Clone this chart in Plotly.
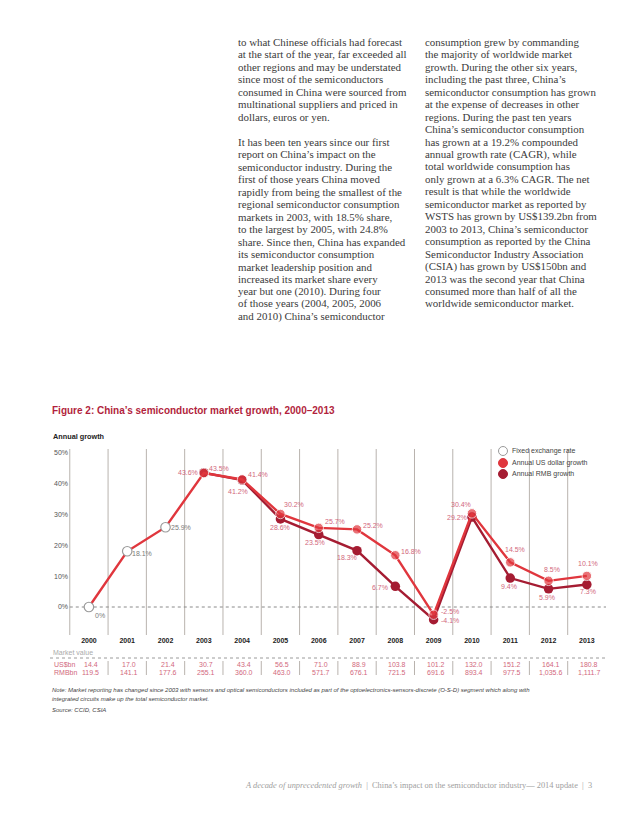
import plotly.graph_objects as go

# ---------------- data ----------------
years = list(range(2000, 2014))
fixed_years = [2000, 2001, 2002]
fixed_growth = [0.0, 18.1, 25.9]
usd_growth = [0.0, 18.1, 25.9, 43.5, 41.4, 30.2, 25.7, 25.2, 16.8, -2.5, 30.4, 14.5, 8.5, 10.1]
rmb_years = list(range(2003, 2014))
rmb_growth = [43.6, 41.2, 28.6, 23.5, 18.3, 6.7, -4.1, 29.2, 9.4, 5.9, 7.3]
usd_bn = [14.4, 17.0, 21.4, 30.7, 43.4, 56.5, 71.0, 88.9, 103.8, 101.2, 132.0, 151.2, 164.1, 180.8]
rmb_bn = [119.5, 141.1, 177.6, 255.1, 360.0, 463.0, 571.7, 676.1, 721.5, 691.6, 893.4, 977.5, 1035.6, 1111.7]
y_ticks = [0, 10, 20, 30, 40, 50]
y_tick_text = ["0%", "10%", "20%", "30%", "40%", "50%"]
series_names = ["Fixed exchange rate", "Annual US dollar growth", "Annual RMB growth"]

# ---------------- styling ----------------
OFF = 8                       # page body margin of the html page
W, H = 638 - OFF, 826 - OFF
L, R, T, B = 69 - OFF, 32, 449 - OFF, 191
PW, PH = W - L - R, H - T - B

def X(px):
    return (px - OFF - L) / PW

def Y(py):
    return (H - B - (py - OFF)) / PH

C_TITLE = "#b21f3d"
C_USD = "#e0363d"
C_RMB = "#a51c32"
C_LBL = "#d2687d"
C_FIX = "#9a9a9a"
C_GRID = "#b9b3ae"
SANS = "Liberation Sans, Arial, sans-serif"
SERIF = "Liberation Serif, Times New Roman, serif"

# label offsets (screen px: dx right, dy down)
fixed_off = [(11, 8), (15, 2), (15, 0)]
usd_off = [(15, -5), (16, -5), (14, -9), (16, -6), (16, -4), (16, -4), (16, -3),
           (-11, -9), (5, -13), (3, -11), (1, -12)]
rmb_off = [(-16, 0), (-4, 11), (0, 9), (-4, 8), (-10, 7), (-15, 1), (16, 1),
           (-15, 0), (-1, 8), (-2, 9), (1, 7)]

fig = go.Figure()

fig.add_trace(go.Scatter(
    x=rmb_years, y=rmb_growth, mode="lines+markers", name=series_names[2],
    line=dict(color=C_RMB, width=2.4),
    marker=dict(color=C_RMB, size=9.5), showlegend=False, hoverinfo="skip"))

fig.add_trace(go.Scatter(
    x=years, y=usd_growth, mode="lines+markers", name=series_names[1],
    line=dict(color=C_USD, width=2.4),
    marker=dict(color=C_USD, size=[0 if yr in fixed_years else 9.5 for yr in years]),
    showlegend=False, hoverinfo="skip"))

fig.add_trace(go.Scatter(
    x=fixed_years, y=fixed_growth, mode="markers", name=series_names[0],
    marker=dict(color="white", size=9.5, line=dict(color=C_FIX, width=1.2)),
    showlegend=False, hoverinfo="skip"))

ann = []
shapes = []

def fmt(v):
    return f"{v:g}%" if v == 0 else f"{v:.1f}%"

for (yr, v), (dx, dy) in zip(zip(fixed_years, fixed_growth), fixed_off):
    ann.append(dict(x=yr, y=v, xref="x", yref="y", text=fmt(v), showarrow=False,
                    xshift=dx, yshift=-dy, font=dict(family=SANS, size=7, color="#7a7a7a")))
for (yr, v), (dx, dy) in zip(zip(years[3:], usd_growth[3:]), usd_off):
    ann.append(dict(x=yr, y=v, xref="x", yref="y", text=fmt(v), showarrow=False,
                    xshift=dx, yshift=-dy, font=dict(family=SANS, size=7, color=C_LBL)))
for (yr, v), (dx, dy) in zip(zip(rmb_years, rmb_growth), rmb_off):
    ann.append(dict(x=yr, y=v, xref="x", yref="y", text=fmt(v), showarrow=False,
                    xshift=dx, yshift=-dy, font=dict(family=SANS, size=7, color=C_LBL)))

# vertical grid lines between years
for yr in years:
    shapes.append(dict(type="line", xref="x", yref="paper", x0=yr - 0.5, x1=yr - 0.5,
                       y0=0, y1=1, line=dict(color=C_GRID, width=1), layer="below"))
# dotted zero line
shapes.append(dict(type="line", xref="x", yref="y", x0=years[0] - 0.5, x1=years[-1] + 0.5,
                   y0=0, y1=0, line=dict(color="#8a8a8a", width=1, dash="dot"), layer="below"))

# title & axis title
ann.append(dict(x=X(50), y=Y(410), xref="paper", yref="paper", xanchor="left", yanchor="middle",
                text="<b>Figure 2: China’s semiconductor market growth, 2000–2013</b>", showarrow=False,
                font=dict(family=SANS, size=10, color=C_TITLE)))
ann.append(dict(x=X(51), y=Y(436), xref="paper", yref="paper", xanchor="left", yanchor="middle",
                text="<b>Annual growth</b>", showarrow=False,
                font=dict(family=SANS, size=7.3, color="#222222")))

# legend (custom)
leg_y = [451, 463, 474]
leg_fill = ["white", C_USD, C_RMB]
leg_line = [C_FIX, C_USD, C_RMB]
for name, py, fc, lc in zip(series_names, leg_y, leg_fill, leg_line):
    shapes.append(dict(type="circle", xref="paper", yref="paper", xsizemode="pixel", ysizemode="pixel",
                       xanchor=X(503), yanchor=Y(py), x0=-4.5, x1=4.5, y0=-4.5, y1=4.5,
                       fillcolor=fc, line=dict(color=lc, width=1)))
    ann.append(dict(x=X(509.5), y=Y(py), xref="paper", yref="paper", xanchor="left", yanchor="middle",
                    text=name, showarrow=False, font=dict(family=SANS, size=7, color="#444444")))

# market value table
ann.append(dict(x=X(51), y=Y(652), xref="paper", yref="paper", xanchor="left", yanchor="middle",
                text="Market value", showarrow=False, font=dict(family=SANS, size=7, color="#ababab")))
shapes.append(dict(type="line", xref="paper", yref="paper", x0=X(50), x1=X(606), y0=Y(658), y1=Y(658),
                   line=dict(color="#9a9a9a", width=1, dash="dot")))
ann.append(dict(x=X(52), y=Y(664), xref="paper", yref="paper", xanchor="left", yanchor="middle",
                text="US$bn", showarrow=False, font=dict(family=SANS, size=7, color=C_LBL)))
ann.append(dict(x=X(52), y=Y(672), xref="paper", yref="paper", xanchor="left", yanchor="middle",
                text="RMBbn", showarrow=False, font=dict(family=SANS, size=7, color=C_LBL)))
for yr, u, r in zip(years, usd_bn, rmb_bn):
    ann.append(dict(x=yr, y=Y(664), xref="x", yref="paper", xanchor="center", yanchor="middle",
                    text=f"{u:,.1f}", showarrow=False, xshift=2, font=dict(family=SANS, size=7, color=C_LBL)))
    ann.append(dict(x=yr, y=Y(672), xref="x", yref="paper", xanchor="center", yanchor="middle",
                    text=f"{r:,.1f}", showarrow=False, xshift=2, font=dict(family=SANS, size=7, color=C_LBL)))
for yr in years[:-1]:
    shapes.append(dict(type="line", xref="x", yref="paper", x0=yr + 0.5, x1=yr + 0.5,
                       y0=Y(661), y1=Y(675), line=dict(color=C_GRID, width=1)))

# notes
note1 = ("<i>Note: Market reporting has changed since 2003 with sensors and optical semiconductors included as part of "
         "the optoelectronics-sensors-discrete (O-S-D) segment which along with</i>")
note2 = "<i>integrated circuits make up the total semiconductor market.</i>"
for txt, py in [(note1, 690), (note2, 699), ("<i>Source: CCID, CSIA</i>", 710)]:
    ann.append(dict(x=X(50), y=Y(py), xref="paper", yref="paper", xanchor="left", yanchor="middle",
                    text=txt, showarrow=False, font=dict(family=SANS, size=6.0, color="#444444")))

# body text (two columns)
left_p1 = ["to what Chinese officials had forecast",
           "at the start of the year, far exceeded all",
           "other regions and may be understated",
           "since most of the semiconductors",
           "consumed in China were sourced from",
           "multinational suppliers and priced in",
           "dollars, euros or yen."]
left_p2 = ["It has been ten years since our first",
           "report on China’s impact on the",
           "semiconductor industry. During the",
           "first of those years China moved",
           "rapidly from being the smallest of the",
           "regional semiconductor consumption",
           "markets in 2003, with 18.5% share,",
           "to the largest by 2005, with 24.8%",
           "share. Since then, China has expanded",
           "its semiconductor consumption",
           "market leadership position and",
           "increased its market share every",
           "year but one (2010). During four",
           "of those years (2004, 2005, 2006",
           "and 2010) China’s semiconductor"]
right_col = ["consumption grew by commanding",
             "the majority of worldwide market",
             "growth. During the other six years,",
             "including the past three, China’s",
             "semiconductor consumption has grown",
             "at the expense of decreases in other",
             "regions. During the past ten years",
             "China’s semiconductor consumption",
             "has grown at a 19.2% compounded",
             "annual growth rate (CAGR), while",
             "total worldwide consumption has",
             "only grown at a 6.3% CAGR. The net",
             "result is that while the worldwide",
             "semiconductor market as reported by",
             "WSTS has grown by US$139.2bn from",
             "2003 to 2013, China’s semiconductor",
             "consumption as reported by the China",
             "Semiconductor Industry Association",
             "(CSIA) has grown by US$150bn and",
             "2013 was the second year that China",
             "consumed more than half of all the",
             "worldwide semiconductor market."]
LS = 12.45
body = []
for i, t in enumerate(left_p1):
    body.append((236, 42 + LS * i, t))
for i, t in enumerate(left_p2):
    body.append((236, 142 + LS * i, t))
for i, t in enumerate(right_col):
    body.append((423, 42 + LS * i, t))
for px, py, t in body:
    ann.append(dict(x=X(px), y=Y(py), xref="paper", yref="paper", xanchor="left", yanchor="middle",
                    text=t, showarrow=False, font=dict(family=SERIF, size=10.9, color="#3a3a3a")))

# footer
ann.append(dict(x=X(243), y=Y(785), xref="paper", yref="paper", xanchor="left", yanchor="middle",
                text="<i>A decade of unprecedented growth</i>  |  China’s impact on the semiconductor industry— 2014 update  |  3",
                showarrow=False, font=dict(family=SERIF, size=8.4, color="#a0a0a0")))

fig.update_layout(
    width=W, height=H,
    margin=dict(l=L, r=R, t=T, b=B, pad=0),
    paper_bgcolor="white", plot_bgcolor="white",
    showlegend=False,
    annotations=ann, shapes=shapes,
    xaxis=dict(range=[1999.48, 2013.5], tickvals=years, ticktext=[f"<b>{y}</b>" for y in years],
               showgrid=False, zeroline=False, showline=False, ticks="",
               tickfont=dict(family=SANS, size=7, color="#222222"), fixedrange=True),
    yaxis=dict(range=[-9.09, 51.3], tickvals=y_ticks, ticktext=y_tick_text,
               showgrid=False, zeroline=False, showline=False, ticks="",
               tickfont=dict(family=SANS, size=7, color="#555555"), fixedrange=True),
)

fig.write_html("out.html")
